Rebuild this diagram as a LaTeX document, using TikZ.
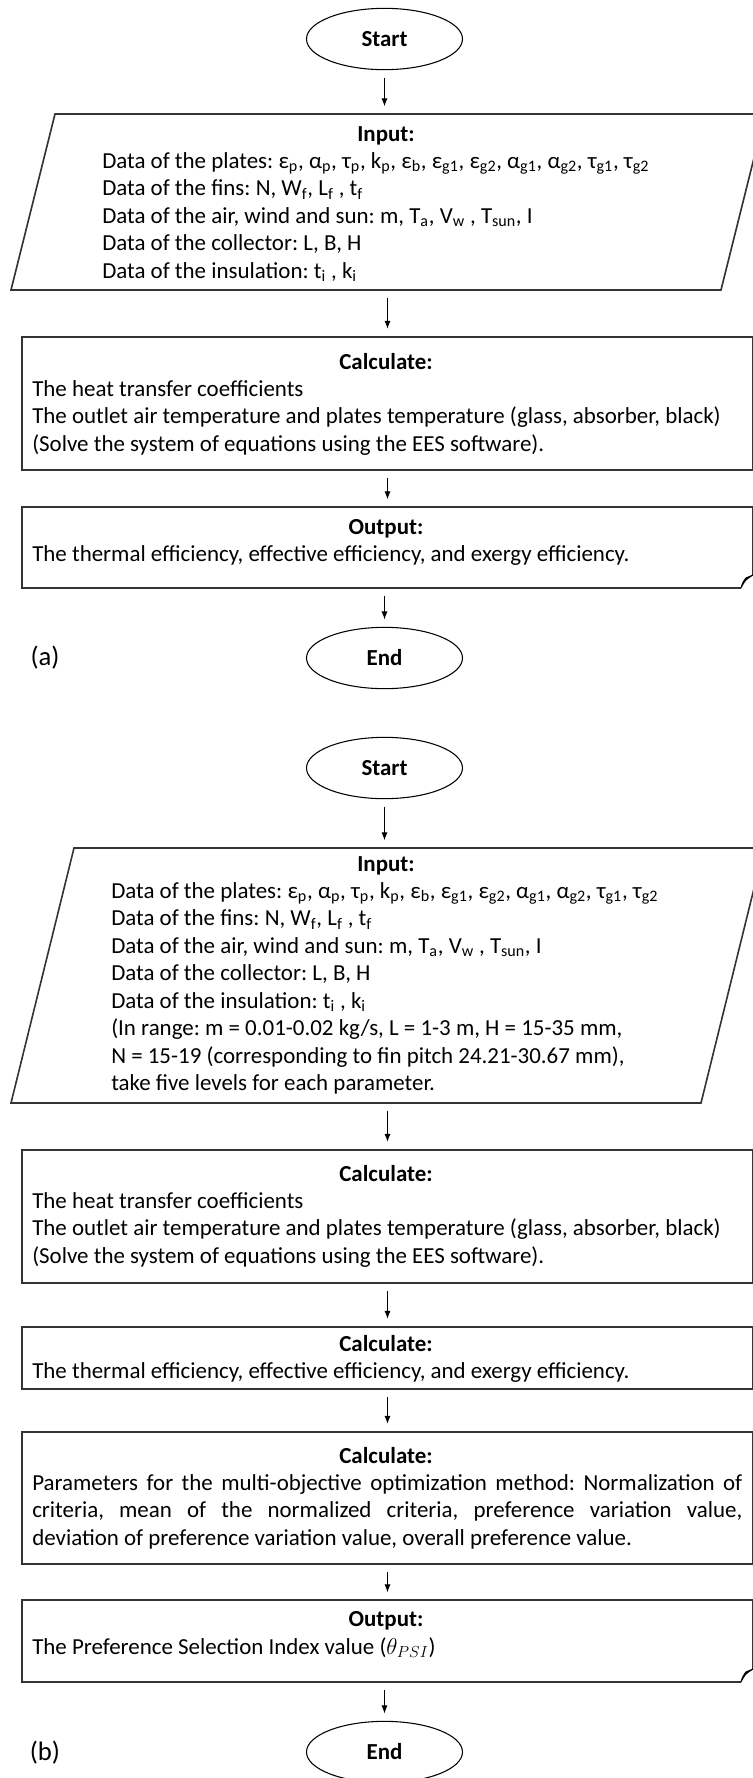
\documentclass[tikz,border=0pt]{standalone}
\usepackage{fontspec}
\setmainfont{Carlito}
\usetikzlibrary{shapes.geometric,fit,arrows.meta}

\newcommand{\sbs}[1]{\textsubscript{#1}}
\frenchspacing

\tikzset{
  term/.style={draw, ellipse, line width=0.8pt, minimum width=117pt, minimum height=46pt,
    font=\fontsize{17.2}{20.6}\selectfont\bfseries},
  box/.style={draw=black!80, line width=1.2pt},
  frame/.style={inner sep=0pt},
  flow/.style={-{Latex[length=6pt,width=4.5pt]}, line width=0.7pt, shorten <=5.5pt, shorten >=5.5pt},
  txt/.style={inner sep=0pt, align=left, font=\fontsize{17.2}{20.6}\selectfont},
  ttl/.style={inner sep=0pt, font=\fontsize{17.2}{20.6}\selectfont\bfseries},
  tag/.style={inner sep=0pt, font=\fontsize{20}{24}\selectfont},
}

\begin{document}
\begin{tikzpicture}[x=0.75pt,y=0.75pt,yscale=-1,xscale=1]
\useasboundingbox (0,0) rectangle (753,1778);
\clip (0,0) rectangle (753,1778);

%%%%%%%%%%%%%%%% (a)
%Terminal
\node[term] (startA) at (384.5,39) {Start};
%Input
\draw[box] (55,114) -- (765,114) -- (721,290) -- (11,290) -- cycle;
\node[frame, fit={(11,114) (765,290)}] (inA) {};
\node[ttl, anchor=base] (inA-t) at (386,141) {Input:};
\node[txt, anchor=north west] (inA-b) at (102,152) {Data of the plates: ε\sbs{p}, α\sbs{p}, τ\sbs{p}, k\sbs{p}, ε\sbs{b}, ε\sbs{g1}, ε\sbs{g2}, α\sbs{g1}, α\sbs{g2}, τ\sbs{g1}, τ\sbs{g2}\\
  Data of the fins: N, W\sbs{f}, L\sbs{f} , t\sbs{f}\\
  Data of the air, wind and sun: m, T\sbs{a}, V\sbs{w} , T\sbs{sun}, I\\
  Data of the collector: L, B, H\\
  Data of the insulation: t\sbs{i} , k\sbs{i}};
%Process
\node[box, frame, fit={(22,337) (753,470)}] (calcA) {};
\node[ttl, anchor=base] (calcA-t) at (386,369) {Calculate:};
\node[txt, anchor=north west] (calcA-b) at (32,380) {The heat transfer coefficients\\
  The outlet air temperature and plates temperature (glass, absorber, black)\\
  (Solve the system of equations using the EES software).};
%Output (folded corner)
\draw[box] (741,588) -- (22,588) -- (22,507) -- (753,507) -- (753,575);
\draw[line width=0.8pt, fill=black!35] (741,588) .. controls (745,580) .. (753,575) -- (746,578) .. controls (743,582) .. (741,588) -- cycle;
\node[frame, fit={(22,507) (753,588)}] (outA) {};
\node[ttl, anchor=base] (outA-t) at (386,534) {Output:};
\node[txt, anchor=north west] (outA-b) at (32,545) {The thermal efficiency, effective efficiency, and exergy efficiency.};
%Terminal
\node[term] (endA) at (384.5,658) {End};
\node[tag] (labA) at (45,658) {(a)};

\draw[flow] (startA.south) -- (startA.south |- inA.north);
\draw[flow] (calcA.north |- inA.south) -- (calcA.north);
\draw[flow] (calcA.south) -- (outA.north);
\draw[flow] (endA.north |- outA.south) -- (endA.north);

%%%%%%%%%%%%%%%% (b)
%Terminal
\node[term] (startB) at (384.5,768) {Start};
%Input
\draw[box] (74,848) -- (764,848) -- (701,1103) -- (11,1103) -- cycle;
\node[frame, fit={(11,848) (764,1103)}] (inB) {};
\node[ttl, anchor=base] (inB-t) at (386,871) {Input:};
\node[txt, anchor=north west] (inB-b) at (111,882) {Data of the plates: ε\sbs{p}, α\sbs{p}, τ\sbs{p}, k\sbs{p}, ε\sbs{b}, ε\sbs{g1}, ε\sbs{g2}, α\sbs{g1}, α\sbs{g2}, τ\sbs{g1}, τ\sbs{g2}\\
  Data of the fins: N, W\sbs{f}, L\sbs{f} , t\sbs{f}\\
  Data of the air, wind and sun: m, T\sbs{a}, V\sbs{w} , T\sbs{sun}, I\\
  Data of the collector: L, B, H\\
  Data of the insulation: t\sbs{i} , k\sbs{i}\\
  (In range: m = 0.01-0.02 kg/s, L = 1-3 m, H = 15-35 mm,\\
  N = 15-19 (corresponding to fin pitch 24.21-30.67 mm),\\
  take five levels for each parameter.};
%Process
\node[box, frame, fit={(22,1150) (753,1283)}] (calcB) {};
\node[ttl, anchor=base] (calcB-t) at (386,1181) {Calculate:};
\node[txt, anchor=north west] (calcB-b) at (32,1192) {The heat transfer coefficients\\
  The outlet air temperature and plates temperature (glass, absorber, black)\\
  (Solve the system of equations using the EES software).};
%Process
\node[box, frame, fit={(22,1327) (753,1389)}] (effB) {};
\node[ttl, anchor=base] (effB-t) at (386,1351) {Calculate:};
\node[txt, anchor=north west] (effB-b) at (32,1362) {The thermal efficiency, effective efficiency, and exergy efficiency.};
%Process
\node[box, frame, fit={(22,1432) (753,1564)}] (psiB) {};
\node[ttl, anchor=base] (psiB-t) at (386,1463) {Calculate:};
\node[txt, anchor=north west] (psiB-b) at (32,1474) {\makebox[532.5pt][s]{Parameters for the multi-objective optimization method: Normalization of}\\
  \makebox[532.5pt][s]{criteria, mean of the normalized criteria, preference variation value,}\\
  deviation of preference variation value, overall preference value.};
%Output (folded corner)
\draw[box] (741,1682) -- (22,1682) -- (22,1600) -- (753,1600) -- (753,1669);
\draw[line width=0.8pt, fill=black!35] (741,1682) .. controls (745,1674) .. (753,1669) -- (746,1672) .. controls (743,1676) .. (741,1682) -- cycle;
\node[frame, fit={(22,1600) (753,1682)}] (outB) {};
\node[ttl, anchor=base] (outB-t) at (386,1626) {Output:};
\node[txt, anchor=north west] (outB-b) at (32,1637) {The Preference Selection Index value ($\theta_{PSI}$)};
%Terminal
\node[term] (endB) at (384.5,1752) {End};
\node[tag] (labB) at (45,1753) {(b)};

\draw[flow] (startB.south) -- (startB.south |- inB.north);
\draw[flow] (calcB.north |- inB.south) -- (calcB.north);
\draw[flow] (calcB.south) -- (effB.north);
\draw[flow] (effB.south) -- (psiB.north);
\draw[flow] (psiB.south) -- (outB.north);
\draw[flow] (endB.north |- outB.south) -- (endB.north);

\end{tikzpicture}
\end{document}
